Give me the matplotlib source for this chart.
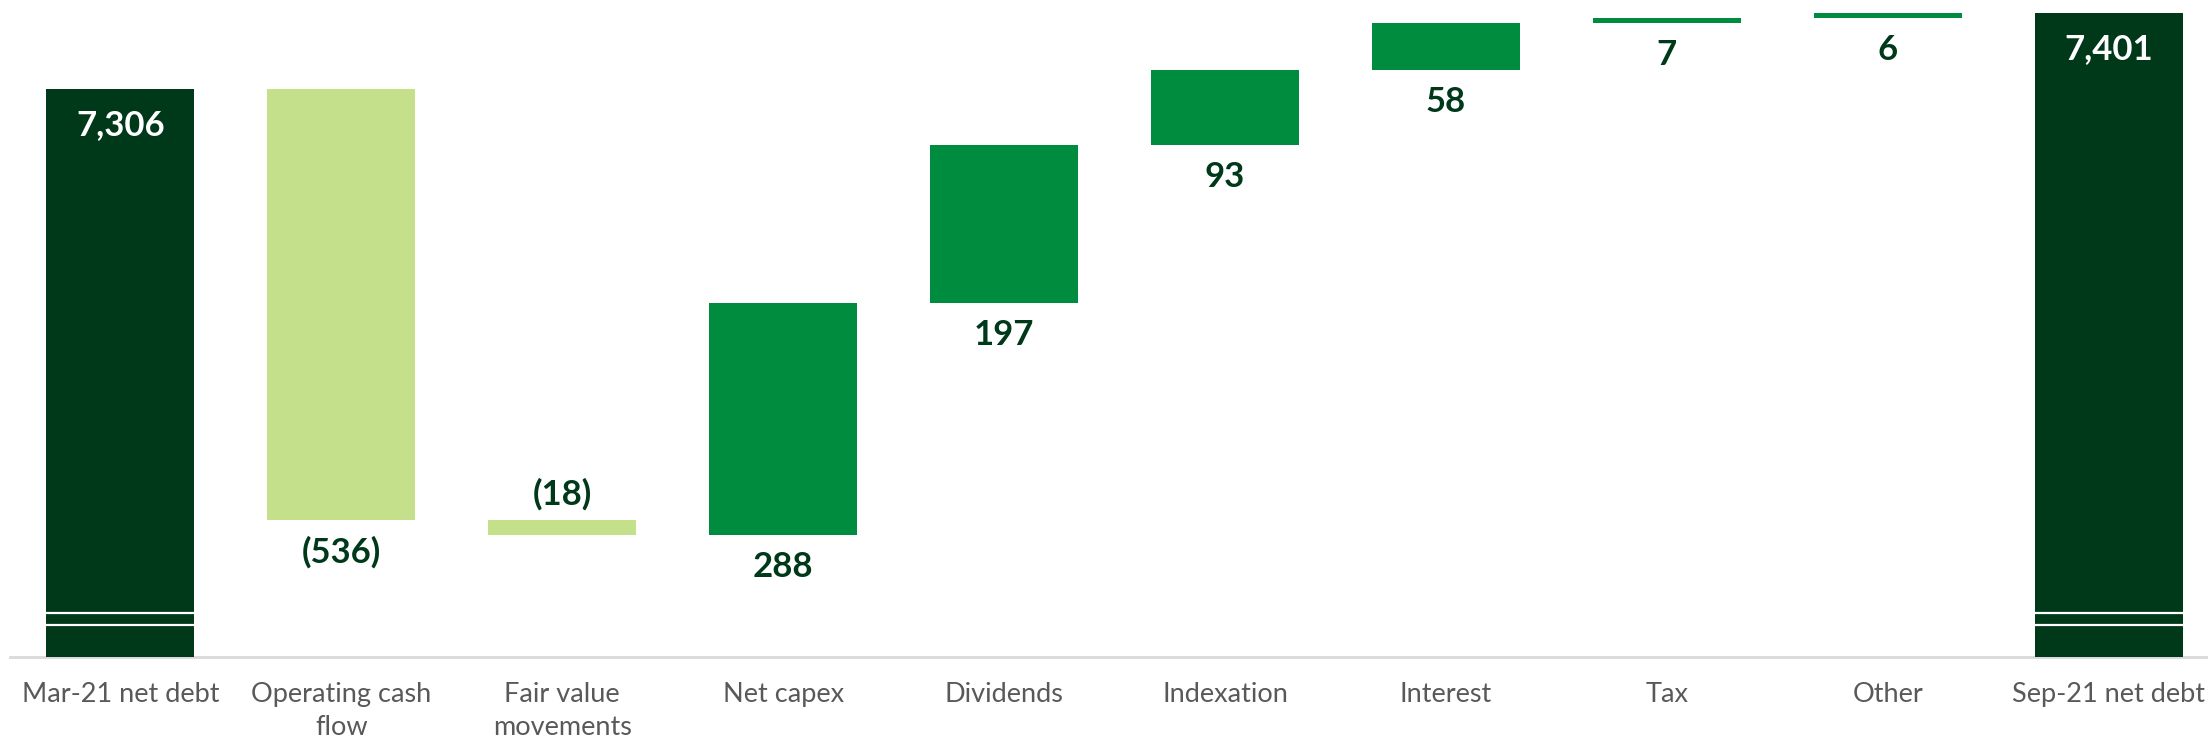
import matplotlib
matplotlib.use("Agg")
import matplotlib.pyplot as plt
import numpy as np

# net debt bridge, GBP m
categories = ["Mar-21 net debt", "Operating cash\nflow", "Fair value\nmovements",
              "Net capex", "Dividends", "Indexation", "Interest", "Tax", "Other",
              "Sep-21 net debt"]
opening = 7306
changes = [-536, -18, 288, 197, 93, 58, 7, 6]
closing = 7401
label_side = ["in", "below", "above", "below", "below", "below", "below", "below", "below", "in"]

dark = "#00381A"
mid = "#008C3E"
light = "#C5E08A"
grey = "#595959"

plt.rcParams["font.family"] = ["Lato", "DejaVu Sans"]

fig = plt.figure(figsize=(22.08, 7.41), dpi=100)
ax = fig.add_axes([10 / 2208, 84 / 741, 2209 / 2208, 657 / 741])

ymin, ymax = 6600, 7417
x = np.arange(len(categories))
w = 0.67

def fmt(v):
    s = f"{abs(v):,}"
    return f"({s})" if v < 0 else s

# opening and closing totals
for xi, v in [(x[0], opening), (x[-1], closing)]:
    ax.bar(xi, v, width=w, color=dark, zorder=2)
    # axis break marks
    ax.hlines([ymin + 40, ymin + 55], xi - w / 2, xi + w / 2, color="white", lw=1.6, zorder=3)

# floating bars
level = opening
tops, bottoms = [opening], [ymin]
for i, d in enumerate(changes):
    lo, hi = min(level, level + d), max(level, level + d)
    ax.bar(x[i + 1], hi - lo, bottom=lo, width=w,
           color=light if d < 0 else mid, zorder=2)
    tops.append(hi)
    bottoms.append(lo)
    level += d
tops.append(closing)
bottoms.append(ymin)

values = [opening] + changes + [closing]
for i, v in enumerate(values):
    side = label_side[i]
    if side == "in":
        ax.annotate(fmt(v), (x[i], tops[i]), xytext=(0, -26), textcoords="offset points",
                    ha="center", va="center", color="white", fontsize=25, fontweight="bold")
    elif side == "above":
        ax.annotate(fmt(v), (x[i], tops[i]), xytext=(0, 19), textcoords="offset points",
                    ha="center", va="center", color=dark, fontsize=25, fontweight="bold")
    else:
        ax.annotate(fmt(v), (x[i], bottoms[i]), xytext=(0, -23), textcoords="offset points",
                    ha="center", va="center", color=dark, fontsize=25, fontweight="bold")

ax.set_xlim(-0.5, 9.5)
ax.set_ylim(ymin, ymax)
ax.set_xticks(x)
ax.set_xticklabels(categories, fontsize=19.5, color=grey, linespacing=1.4)
ax.tick_params(axis="x", length=0, pad=18)
ax.set_yticks([])
for s in ["top", "right", "left"]:
    ax.spines[s].set_visible(False)
ax.spines["bottom"].set_color("#D9D9D9")
ax.spines["bottom"].set_linewidth(2)
ax.spines["bottom"].set_zorder(1)

fig.savefig("out.png", dpi=100)
